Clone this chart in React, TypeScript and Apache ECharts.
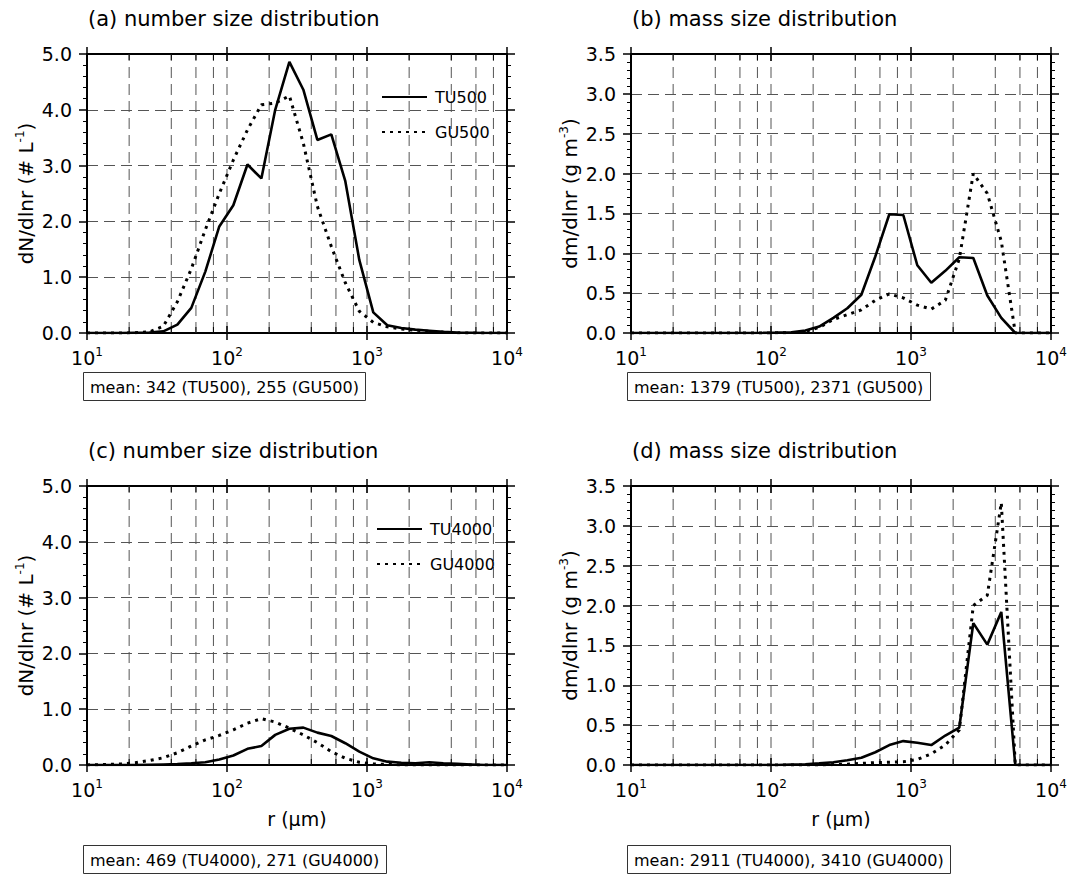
import React, { useEffect, useRef } from 'react';
import * as echarts from 'echarts';

const FONT = 'DejaVu Sans';

// bin centres r (µm)
const binR = [11.1, 14.0, 17.6, 22.1, 27.9, 35.1, 44.2, 55.6, 70.0, 88.1, 111, 140, 176, 221, 279, 351, 442, 556, 700, 881, 1109, 1396, 1758, 2213, 2786, 3508, 4416, 5559, 6998, 8810];
const rStart = 10;
const rEnd = 10000;

// (a) number size distribution, 500
const tuNum500 = [0, 0, 0, 0.005, 0.01, 0.03, 0.15, 0.45, 1.1, 1.91, 2.29, 3.02, 2.77, 4.0, 4.86, 4.36, 3.46, 3.56, 2.72, 1.31, 0.37, 0.14, 0.09, 0.06, 0.04, 0.02, 0.01, 0.005, 0, 0];
const guNum500 = [0, 0, 0, 0.005, 0.02, 0.12, 0.56, 1.15, 1.85, 2.5, 3.1, 3.64, 4.09, 4.12, 4.25, 3.4, 2.27, 1.55, 0.9, 0.39, 0.19, 0.11, 0.07, 0.05, 0.03, 0.015, 0.005, 0, 0, 0];
// (b) mass size distribution, 500
const tuMass500 = [0, 0, 0, 0, 0, 0, 0, 0, 0, 0.002, 0.005, 0.01, 0.03, 0.08, 0.19, 0.31, 0.48, 0.96, 1.49, 1.48, 0.85, 0.63, 0.78, 0.95, 0.94, 0.47, 0.19, 0, 0, 0];
const guMass500 = [0, 0, 0, 0, 0, 0, 0, 0, 0, 0, 0.002, 0.005, 0.02, 0.07, 0.17, 0.23, 0.29, 0.41, 0.49, 0.44, 0.35, 0.3, 0.41, 0.93, 2.0, 1.75, 1.15, 0, 0, 0];
// (c) number size distribution, 4000
const tuNum4000 = [0, 0, 0, 0, 0.005, 0.01, 0.015, 0.03, 0.05, 0.1, 0.17, 0.29, 0.34, 0.54, 0.65, 0.67, 0.58, 0.52, 0.39, 0.24, 0.12, 0.06, 0.04, 0.03, 0.05, 0.03, 0.02, 0.01, 0, 0];
const guNum4000 = [0.005, 0.01, 0.02, 0.04, 0.08, 0.13, 0.22, 0.34, 0.45, 0.53, 0.63, 0.75, 0.83, 0.77, 0.66, 0.54, 0.4, 0.24, 0.12, 0.05, 0.02, 0.01, 0, 0, 0, 0, 0, 0, 0, 0];
// (d) mass size distribution, 4000
const tuMass4000 = [0, 0, 0, 0, 0, 0, 0, 0, 0, 0, 0, 0.005, 0.01, 0.02, 0.035, 0.06, 0.09, 0.16, 0.25, 0.3, 0.28, 0.25, 0.37, 0.47, 1.78, 1.51, 1.92, 0, 0, 0];
const guMass4000 = [0, 0, 0, 0, 0, 0, 0, 0, 0, 0, 0, 0, 0, 0, 0.005, 0.01, 0.02, 0.03, 0.035, 0.04, 0.07, 0.14, 0.25, 0.44, 2.0, 2.13, 3.29, 0, 0, 0];

// x tick positions (log axis), majors are decades
const xTicks = [10, 20, 40, 60, 80, 100, 200, 400, 600, 800, 1000, 2000, 4000, 6000, 8000, 10000];
const xMajor = [10, 100, 1000, 10000];

const panels = [
  { title: '(a) number size distribution', yMax: 5, yInt: 1, yName: 'dN/dlnr (# L{sup|-1})', xName: '', mean: 'mean: 342 (TU500), 255 (GU500)', tu: tuNum500, gu: guNum500, tuName: 'TU500', guName: 'GU500' },
  { title: '(b) mass size distribution', yMax: 3.5, yInt: 0.5, yName: 'dm/dlnr (g m{sup|-3})', xName: '', mean: 'mean: 1379 (TU500), 2371 (GU500)', tu: tuMass500, gu: guMass500, tuName: 'TU500 mass', guName: 'GU500 mass' },
  { title: '(c) number size distribution', yMax: 5, yInt: 1, yName: 'dN/dlnr (# L{sup|-1})', xName: 'r (μm)', mean: 'mean: 469 (TU4000), 271 (GU4000)', tu: tuNum4000, gu: guNum4000, tuName: 'TU4000', guName: 'GU4000' },
  { title: '(d) mass size distribution', yMax: 3.5, yInt: 0.5, yName: 'dm/dlnr (g m{sup|-3})', xName: 'r (μm)', mean: 'mean: 2911 (TU4000), 3410 (GU4000)', tu: tuMass4000, gu: guMass4000, tuName: 'TU4000 mass', guName: 'GU4000 mass' },
];

const layout = [
  { left: 87, top: 54, boxLeft: 83, boxTop: 372 },
  { left: 631, top: 54, boxLeft: 627, boxTop: 372 },
  { left: 87, top: 486, boxLeft: 83, boxTop: 845 },
  { left: 631, top: 486, boxLeft: 627, boxTop: 845 },
];
const GW = 420;
const GH = 279;

function pairs(vals: number[]): [number, number][] {
  const out: [number, number][] = [[rStart, 0]];
  binR.forEach((r, i) => out.push([r, vals[i]]));
  out.push([rEnd, 0]);
  return out;
}

const txt = { color: '#000', fontFamily: FONT, fontWeight: 'normal' as const };
const supStyle = { fontSize: 12, fontFamily: FONT, color: '#000', padding: [0, 0, 11, 0] };

function buildOption() {
  const grid: any[] = [];
  const xAxis: any[] = [];
  const yAxis: any[] = [];
  const series: any[] = [];
  const title: any[] = [];

  panels.forEach((p, i) => {
    const L = layout[i];
    grid.push({ left: L.left, top: L.top, width: GW, height: GH });
    title.push({ text: p.title, left: L.left + 1, top: L.top - 46, padding: 0, textStyle: { ...txt, fontSize: 21 } });
    title.push({
      text: p.mean, left: L.boxLeft, top: L.boxTop, padding: [7, 7, 6, 7], borderWidth: 1, borderColor: '#333',
      textStyle: { ...txt, fontSize: 16 },
    });
  });

  panels.forEach((p, i) => {
    xAxis.push({
      gridIndex: i, type: 'log', logBase: 10, min: 10, max: 10000, position: 'bottom',
      axisLine: { show: true, onZero: false, lineStyle: { color: '#000', width: 2 } },
      axisTick: { show: false }, splitLine: { show: false }, minorTick: { show: false },
      axisLabel: {
        show: true, margin: 13, fontSize: 19, ...txt, showMinLabel: true, showMaxLabel: true,
        formatter: (v: number) => '10{sup|' + Math.round(Math.log10(v)) + '}',
        rich: { sup: supStyle },
      },
      name: p.xName, nameLocation: 'middle', nameGap: 44,
      nameTextStyle: { ...txt, fontSize: 19 },
    });
  });
  panels.forEach((p, i) => {
    xAxis.push({
      gridIndex: i, type: 'log', logBase: 10, min: 10, max: 10000, position: 'top',
      axisLine: { show: true, onZero: false, lineStyle: { color: '#000', width: 2 } },
      axisTick: { show: false }, axisLabel: { show: false }, splitLine: { show: false },
    });
  });
  panels.forEach((p, i) => {
    yAxis.push({
      gridIndex: i, type: 'value', min: 0, max: p.yMax, interval: p.yInt, position: 'left',
      axisLine: { show: true, onZero: false, lineStyle: { color: '#000', width: 2 } },
      axisTick: { show: true, length: 8, lineStyle: { color: '#000', width: 1.5 } },
      minorTick: { show: true, splitNumber: 5, length: 4, lineStyle: { color: '#000', width: 1 } },
      splitLine: { show: true, lineStyle: { color: '#555', width: 1, type: [11, 6] } },
      axisLabel: { margin: 15, fontSize: 19, ...txt, formatter: (v: number) => v.toFixed(1) },
      name: p.yName, nameLocation: 'middle', nameRotate: 90, nameGap: 50,
      nameTextStyle: { ...txt, fontSize: 20, rich: { sup: supStyle } },
    });
  });
  panels.forEach((p, i) => {
    yAxis.push({
      gridIndex: i, type: 'value', min: 0, max: p.yMax, interval: p.yInt, position: 'right',
      axisLine: { show: true, onZero: false, lineStyle: { color: '#000', width: 2 } },
      axisTick: { show: true, length: 8, lineStyle: { color: '#000', width: 1.5 } },
      minorTick: { show: true, splitNumber: 5, length: 4, lineStyle: { color: '#000', width: 1 } },
      splitLine: { show: false }, axisLabel: { show: false },
    });
  });

  panels.forEach((p, i) => {
    const yMax = p.yMax;
    series.push({
      type: 'custom', xAxisIndex: i, yAxisIndex: i, silent: true, z: 1, clip: false,
      data: xTicks.map((t) => [t, xMajor.indexOf(t) >= 0 ? 1 : 0]),
      renderItem: (params: any, api: any) => {
        const r = api.value(0);
        const major = api.value(1) === 1;
        const b = api.coord([r, 0]);
        const t = api.coord([r, yMax]);
        const children: any[] = [];
        if (r > 10 && r < 10000) {
          children.push({ type: 'line', shape: { x1: b[0], y1: b[1], x2: t[0], y2: t[1] }, style: { stroke: '#555', lineWidth: 1, lineDash: [11, 6] } });
        }
        const tickStyle = { stroke: '#000', lineWidth: 1.5 };
        if (major) {
          children.push({ type: 'line', shape: { x1: b[0], y1: b[1] + 7, x2: b[0], y2: b[1] - 7 }, style: tickStyle });
          children.push({ type: 'line', shape: { x1: t[0], y1: t[1] - 7, x2: t[0], y2: t[1] + 7 }, style: tickStyle });
        } else {
          children.push({ type: 'line', shape: { x1: b[0], y1: b[1], x2: b[0], y2: b[1] - 6 }, style: { stroke: '#000', lineWidth: 1 } });
          children.push({ type: 'line', shape: { x1: t[0], y1: t[1], x2: t[0], y2: t[1] + 6 }, style: { stroke: '#000', lineWidth: 1 } });
        }
        return { type: 'group', children };
      },
    });
    series.push({
      type: 'line', name: p.tuName, xAxisIndex: i, yAxisIndex: i, data: pairs(p.tu), symbol: 'none', z: 3,
      lineStyle: { color: '#000', width: 2.6, type: 'solid' }, itemStyle: { color: '#000' },
    });
    series.push({
      type: 'line', name: p.guName, xAxisIndex: i, yAxisIndex: i, data: pairs(p.gu), symbol: 'none', z: 3,
      lineStyle: { color: '#000', width: 3, type: [3, 5] }, itemStyle: { color: '#000' },
    });
  });

  const legendCommon = {
    orient: 'vertical', itemWidth: 45, itemHeight: 14, itemGap: 19, selectedMode: false,
    itemStyle: { color: 'rgba(0,0,0,0)', borderColor: 'rgba(0,0,0,0)', borderWidth: 0, opacity: 0 },
    textStyle: { ...txt, fontSize: 16, padding: [0, 0, 0, 3] },
  };
  const legend = [
    { ...legendCommon, data: ['TU500', 'GU500'], left: 376, top: 84 },
    { ...legendCommon, data: ['TU4000', 'GU4000'], left: 371, top: 516 },
  ];

  return { animation: false, backgroundColor: '#fff', title, grid, xAxis, yAxis, series, legend };
}

export default function App() {
  const ref = useRef<HTMLDivElement>(null);
  useEffect(() => {
    if (!ref.current) return;
    const chart = echarts.init(ref.current, undefined, { renderer: 'svg' });
    chart.setOption(buildOption() as any);
    return () => chart.dispose();
  }, []);
  return <div ref={ref} style={{ position: 'absolute', left: 0, top: 0, width: 1072, height: 881, background: '#fff' }} />;
}
